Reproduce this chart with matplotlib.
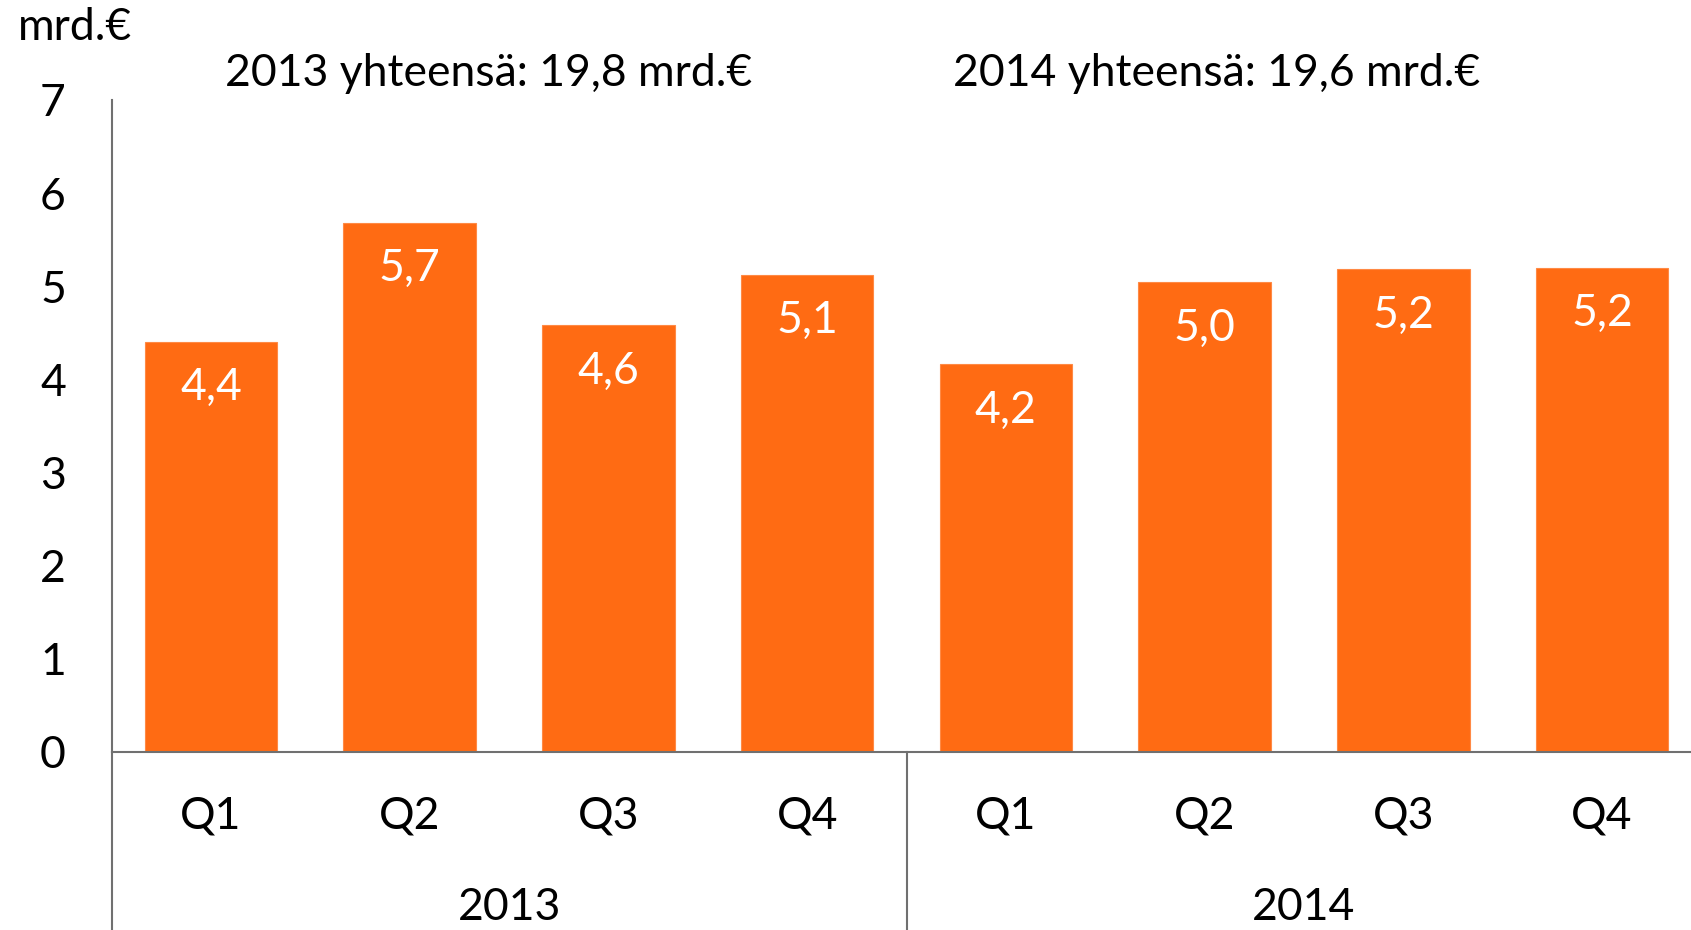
import matplotlib.pyplot as plt
from matplotlib.transforms import blended_transform_factory

# data
quarters = ['Q1', 'Q2', 'Q3', 'Q4', 'Q1', 'Q2', 'Q3', 'Q4']
years = ['2013', '2014']
values = [4.4, 5.68, 4.58, 5.12, 4.16, 5.04, 5.18, 5.2]
totals = ['19,8', '19,6']

plt.rcParams['font.family'] = ['Lato', 'DejaVu Sans']
FS = 32
GREY = '#707070'
ORANGE = '#FF6B13'

W, H = 1691, 930
fig = plt.figure(figsize=(W / 100, H / 100), dpi=100)
ax = fig.add_axes([111.7 / W, 1 - 751.7 / H, 1 - 111.7 / W, (751.7 - 100) / H])

x = list(range(len(values)))
bars = ax.bar(x, values, width=0.667, color=ORANGE, edgecolor='#FF8A45', linewidth=0.8)

# value labels inside bars
for xi, v in zip(x, values):
    ax.annotate(f"{v:.1f}".replace('.', ','), (xi, v), xytext=(0, -33),
                textcoords='offset points', ha='center', va='center',
                color='white', fontsize=FS)

ax.set_xlim(-0.5, -0.5 + (W - 111.7) / 198.7)
ax.set_ylim(0, 7)
ax.set_yticks(range(8))
ax.set_yticklabels([str(i) for i in range(8)], fontsize=FS)
ax.tick_params(axis='y', length=0, pad=33)
ax.set_xticks([])

for s in ['top', 'right']:
    ax.spines[s].set_visible(False)
for s in ['left', 'bottom']:
    ax.spines[s].set_color(GREY)
    ax.spines[s].set_linewidth(1.5)

# category labels below axis
trans = blended_transform_factory(ax.transData, ax.transAxes)
for xi, q in zip(x, quarters):
    ax.annotate(q, (xi, 0), xycoords=trans, xytext=(0, -46),
                textcoords='offset points', ha='center', va='center', fontsize=FS)
for i, yr in enumerate(years):
    ax.annotate(yr, (i * 4 + 1.5, 0), xycoords=trans, xytext=(0, -112),
                textcoords='offset points', ha='center', va='center', fontsize=FS)

# group separators
ybot = -(H - 751.7) / (751.7 - 100)
for xs in [-0.5, 3.5, 7.5]:
    ax.plot([xs, xs], [0, ybot], transform=trans, color=GREY, lw=1.5, clip_on=False)

# unit and yearly totals
fig.text(74.5 / W, 1 - 27 / H, 'mrd.€', ha='center', va='center', fontsize=FS)
fig.text(489 / W, 1 - 74 / H, f'{years[0]} yhteensä: {totals[0]} mrd.€',
         ha='center', va='center', fontsize=FS)
fig.text(1216.6 / W, 1 - 74 / H, f'{years[1]} yhteensä: {totals[1]} mrd.€',
         ha='center', va='center', fontsize=FS)

fig.savefig('out.png', dpi=100)
